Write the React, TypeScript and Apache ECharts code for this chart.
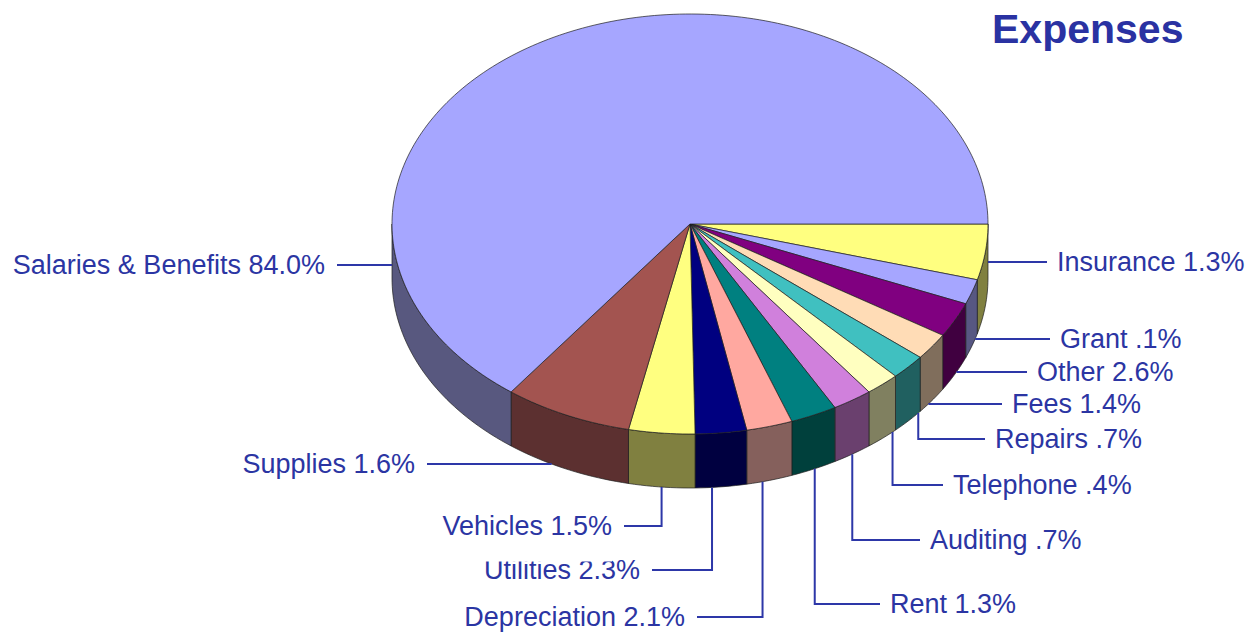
import React, { useEffect, useRef } from "react";
import * as echarts from "echarts";

// ---- data ----
const categories = [
  "Insurance",
  "Grant",
  "Other",
  "Fees",
  "Repairs",
  "Telephone",
  "Auditing",
  "Rent",
  "Depreciation",
  "Utilities",
  "Vehicles",
  "Supplies",
  "Salaries & Benefits",
];
// percentages printed in the labels
const labelPercents = ["1.3%", ".1%", "2.6%", "1.4%", ".7%", ".4%", ".7%", "1.3%", "2.1%", "2.3%", "1.5%", "1.6%", "84.0%"];
// slice sizes as drawn in the picture (share of the full circle, %)
const sliceShares = [4.28, 1.92, 2.69, 2.06, 1.94, 1.86, 2.17, 2.53, 2.5, 2.78, 3.58, 6.94, 64.75];

// ---- styles ----
const topColors = [
  "#ffff80", "#a6a6ff", "#800080", "#ffdcb6", "#40c0c0", "#ffffc0", "#d080dc",
  "#008080", "#ffa8a0", "#000080", "#ffff80", "#a35450", "#a6a6ff",
];
const sideColors = [
  "#808040", "#575782", "#400040", "#806e5c", "#206060", "#808060", "#6a406e",
  "#00403c", "#85605c", "#000040", "#808040", "#5c3030", "#58587f",
];
const TEXT_COLOR = "#2b35a3";
const LINE_COLOR = "#2d37a8";
const FONT = "Liberation Sans, Arial, sans-serif";
const LABEL_SIZE = 27;

// ---- layout ----
const CX = 690;
const CY = 224;
const RX = 298;
const RY = 210;
const DEPTH = 54;
// label anchor: x (text edge), y (text middle), dir (1 = label right of pie),
// kind (h: horizontal leader, v: elbow leader), dx (leader foot shift), padBottom (label box extension)
const labelLayout = [
  { x: 1057, y: 262, dir: 1, kind: "h", dx: 0, padBottom: 0 },
  { x: 1060, y: 339, dir: 1, kind: "h", dx: 0, padBottom: 0 },
  { x: 1037, y: 372, dir: 1, kind: "h", dx: 0, padBottom: 0 },
  { x: 1012, y: 404, dir: 1, kind: "h", dx: 0, padBottom: 0 },
  { x: 995, y: 439, dir: 1, kind: "v", dx: 10, padBottom: 0 },
  { x: 953, y: 485, dir: 1, kind: "v", dx: 10, padBottom: 0 },
  { x: 930, y: 540, dir: 1, kind: "v", dx: 0, padBottom: 0 },
  { x: 890, y: 604, dir: 1, kind: "v", dx: 1, padBottom: 0 },
  { x: 685, y: 617, dir: -1, kind: "v", dx: -7, padBottom: 0 },
  { x: 640, y: 570, dir: -1, kind: "v", dx: -9, padBottom: 0 },
  { x: 612, y: 526, dir: -1, kind: "v", dx: 0, padBottom: 22 },
  { x: 415, y: 464, dir: -1, kind: "h", dx: 0, padBottom: 0 },
  { x: 325, y: 265, dir: -1, kind: "h", dx: 0, padBottom: 0 },
];

const rad = (d: number) => (d * Math.PI) / 180;
const pt = (t: number, dy: number) => [CX + RX * Math.cos(rad(t)), CY + dy + RY * Math.sin(rad(t))];
const arc = (a: number, b: number, dy: number) => {
  const n = Math.max(2, Math.ceil(Math.abs(b - a) / 1.2));
  const pts: number[][] = [];
  for (let k = 0; k <= n; k++) pts.push(pt(a + ((b - a) * k) / n, dy));
  return pts;
};
const silhouetteX = (y: number, dir: number) => {
  let dx = RX;
  if (y > CY + DEPTH) {
    const s = (y - CY - DEPTH) / RY;
    dx = RX * Math.sqrt(Math.max(0, 1 - s * s));
  } else if (y < CY) {
    const s = (CY - y) / RY;
    dx = RX * Math.sqrt(Math.max(0, 1 - s * s));
  }
  return dir > 0 ? CX + dx : CX - dx;
};
const bottomRimY = (x: number) => {
  const c = Math.max(-1, Math.min(1, (x - CX) / RX));
  return CY + DEPTH + RY * Math.sqrt(1 - c * c);
};

export default function App() {
  const ref = useRef<HTMLDivElement>(null);
  useEffect(() => {
    document.body.style.margin = "0";
    const chart = echarts.init(ref.current!, null, { renderer: "svg" });
    const total = sliceShares.reduce((a, b) => a + b, 0);
    let acc = 0;
    const data = sliceShares.map((v, i) => {
      const s = (acc / total) * 360;
      acc += v;
      const e = (acc / total) * 360;
      return [s, e, i, v];
    });

    const renderItem = (_params: any, api: any) => {
      const s = api.value(0) as number;
      const e = api.value(1) as number;
      const i = api.value(2) as number;
      const children: any[] = [];
      const a = Math.max(s, 0);
      const b = Math.min(e, 180);
      if (b > a) {
        children.push({
          type: "polygon",
          shape: { points: arc(a, b, 0).concat(arc(b, a, DEPTH)) },
          style: { fill: sideColors[i], stroke: "#1e1e1e", lineWidth: 0.7 },
        });
      }
      children.push({
        type: "polygon",
        shape: { points: [[CX, CY]].concat(arc(s, e, 0)) },
        style: { fill: topColors[i], stroke: "#1e1e1e", lineWidth: 0.7 },
      });
      const L = labelLayout[i];
      const endX = L.dir > 0 ? L.x - 10 : L.x + 12;
      let pts: number[][];
      if (L.kind === "h") {
        pts = [
          [silhouetteX(L.y, L.dir), L.y],
          [endX, L.y],
        ];
      } else {
        const mid = (s + e) / 2;
        const ax = CX + RX * Math.cos(rad(mid)) + L.dx;
        const ay = bottomRimY(ax);
        pts = [
          [ax, ay],
          [ax, L.y],
          [endX, L.y],
        ];
      }
      children.push({
        type: "polyline",
        shape: { points: pts },
        style: { stroke: LINE_COLOR, lineWidth: 2, fill: null },
      });
      const textStyle: any = {
        text: `${categories[i]} ${labelPercents[i]}`,
        x: L.x,
        y: L.y - LABEL_SIZE / 2,
        align: L.dir > 0 ? "left" : "right",
        verticalAlign: "top",
        fill: TEXT_COLOR,
        fontSize: LABEL_SIZE,
        fontFamily: FONT,
      };
      if (L.padBottom > 0) {
        textStyle.backgroundColor = "#ffffff";
        textStyle.padding = [0, 0, L.padBottom, 0];
      }
      children.push({ type: "text", style: textStyle });
      return { type: "group", children };
    };

    chart.setOption({
      animation: false,
      backgroundColor: "#ffffff",
      title: {
        text: "Expenses",
        left: 987,
        top: 3,
        textStyle: { fontSize: 41, fontWeight: "bold", color: "#2a32a2", fontFamily: FONT },
      },
      series: [
        {
          type: "custom",
          coordinateSystem: "none",
          dimensions: ["start", "end", "index", "share"],
          data,
          renderItem,
        },
      ],
    });
    return () => chart.dispose();
  }, []);
  return <div ref={ref} style={{ width: 1251, height: 632 }} />;
}
